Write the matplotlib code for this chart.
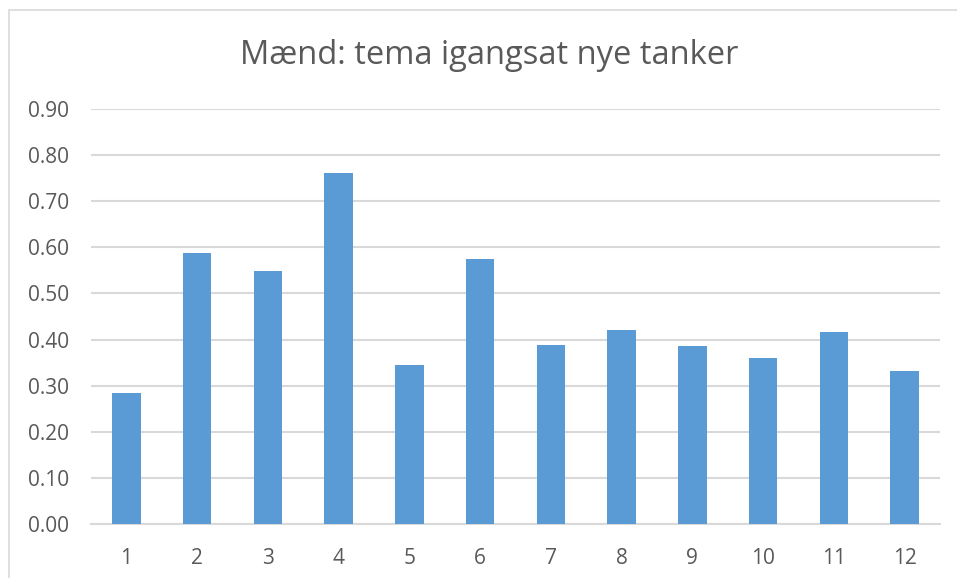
import matplotlib
matplotlib.use("Agg")
import matplotlib.pyplot as plt
from matplotlib.patches import Rectangle

# values
categories = ["1", "2", "3", "4", "5", "6", "7", "8", "9", "10", "11", "12"]
values = [0.285, 0.587, 0.548, 0.761, 0.345, 0.574, 0.388, 0.420, 0.386, 0.361, 0.417, 0.332]
yticks = [0.0, 0.1, 0.2, 0.3, 0.4, 0.5, 0.6, 0.7, 0.8, 0.9]
title = "Mænd: tema igangsat nye tanker"

W, H = 957, 578
plt.rcParams["font.family"] = ["Open Sans", "DejaVu Sans"]
text_color = "#595959"
grid_color = "#D9D9D9"

fig = plt.figure(figsize=(W / 100, H / 100), dpi=100)
fig.patch.set_facecolor("white")

# chart area border (only top and left are inside the picture)
fig.patches.append(
    Rectangle((9 / W, -0.1), 1.2, 1 - 10 / H + 0.1, transform=fig.transFigure,
              fill=False, edgecolor=grid_color, linewidth=1.2)
)

ax = fig.add_axes([91 / W, 1 - 524 / H, (940 - 91) / W, (524 - 109) / H])
x = list(range(len(categories)))
ax.bar(x, values, width=0.405, color="#5B9BD5", zorder=3)

ax.set_xlim(-0.5, len(categories) - 0.5)
ax.set_ylim(0, 0.9)
ax.set_yticks(yticks)
ax.set_yticklabels([f"{t:.2f}" for t in yticks])
ax.set_xticks(x)
ax.set_xticklabels(categories)
ax.tick_params(axis="both", length=0, colors=text_color, labelsize=15)
ax.tick_params(axis="y", pad=16)
ax.tick_params(axis="x", pad=17)
ax.grid(True, axis="y", color=grid_color, linewidth=1.5, zorder=0)
for s in ["top", "right", "left"]:
    ax.spines[s].set_visible(False)
ax.spines["bottom"].set_color(grid_color)
ax.spines["bottom"].set_linewidth(1.5)
ax.set_facecolor("white")

fig.text(489 / W, 1 - 55 / H, title, ha="center", va="center",
         fontsize=23.5, color=text_color)

fig.savefig("out.png", dpi=100)
